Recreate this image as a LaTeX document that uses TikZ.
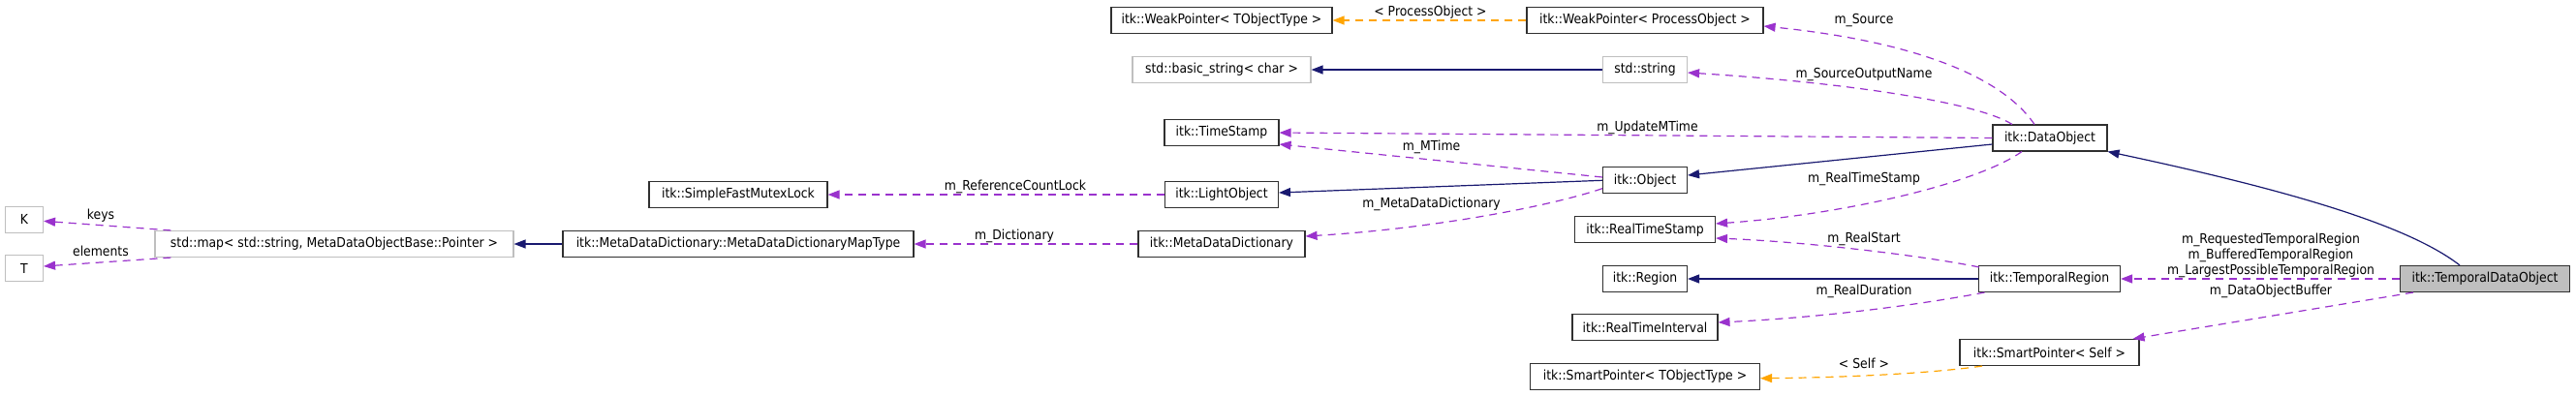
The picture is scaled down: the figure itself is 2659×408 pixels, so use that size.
\documentclass[tikz,border=0pt]{standalone}
\usepackage{fontspec}
\setmainfont{DejaVu Sans}[FakeStretch=0.9]
\usetikzlibrary{arrows.meta}
\definecolor{inhc}{HTML}{191970}
\definecolor{memc}{HTML}{9A32CD}
\definecolor{tplc}{HTML}{FFA500}
\definecolor{grayb}{HTML}{BFBFBF}
\definecolor{bordc}{HTML}{303030}
\begin{document}
\begin{tikzpicture}[x=1pt,y=-1pt,
  box/.style={draw=bordc, line width=1.1pt, minimum height=27pt, inner sep=0pt, fill=white, font=\fontsize{13.8}{16}\selectfont},
  gbox/.style={box, draw=grayb},
  lbl/.style={inner sep=0pt, font=\fontsize{13.8}{16}\selectfont},
  tip/.style={-{Triangle[length=12pt,width=9pt]}},
  inh/.style={draw=inhc, line width=1.2pt, tip},
  mem/.style={draw=memc, line width=1.2pt, dash pattern=on 8pt off 6pt, tip},
  tpl/.style={draw=tplc, line width=1.2pt, dash pattern=on 8pt off 6pt, tip}]
\fill[white] (0,0) rectangle (2659,408);
\useasboundingbox (0,0) rectangle (2659,408);

% nodes
\node[gbox, minimum width=39pt] (K) at (25,226.7) {K};
\node[gbox, minimum width=39pt] (T) at (25,277.3) {T};
\node[gbox, minimum width=370pt] (map) at (345,252) {std::map< std::string, MetaDataObjectBase::Pointer >};
\node[box, minimum width=362pt] (maptype) at (762,252) {itk::MetaDataDictionary::MetaDataDictionaryMapType};
\node[box, minimum width=184pt] (sfml) at (762,201) {itk::SimpleFastMutexLock};
\node[box, minimum width=172pt] (mdd) at (1261,252) {itk::MetaDataDictionary};
\node[box, minimum width=117pt] (light) at (1261,201) {itk::LightObject};
\node[box, minimum width=118pt] (ts) at (1261,137) {itk::TimeStamp};
\node[gbox, minimum width=184pt] (bstring) at (1261,72) {std::basic\_string< char >};
\node[box, minimum width=228pt] (wptot) at (1261,21) {itk::WeakPointer< TObjectType >};
\node[box, minimum width=244pt] (wppo) at (1698,21) {itk::WeakPointer< ProcessObject >};
\node[gbox, minimum width=87pt] (string) at (1698,72) {std::string};
\node[box, minimum width=87pt] (object) at (1698,186.3) {itk::Object};
\node[box, minimum width=145pt] (rts) at (1698,237.4) {itk::RealTimeStamp};
\node[box, minimum width=87pt] (region) at (1698,288) {itk::Region};
\node[box, minimum width=150pt] (rti) at (1698,338.3) {itk::RealTimeInterval};
\node[box, minimum width=237pt] (sptot) at (1698,389) {itk::SmartPointer< TObjectType >};
\node[box, minimum width=118pt] (dobj) at (2116,142.5) {itk::DataObject};
\node[box, minimum width=146pt] (treg) at (2115.5,288) {itk::TemporalRegion};
\node[box, minimum width=185pt] (spself) at (2115.5,364) {itk::SmartPointer< Self >};
\node[box, minimum width=175pt, fill=grayb] (tdo) at (2565,288) {itk::TemporalDataObject};

% inheritance
\draw[inh] (maptype.west) -- (map.east);
\draw[inh] (object.west) -- ([yshift=2pt]light.east);
\draw[inh] (string.west) -- (bstring.east);
\draw[inh] ([yshift=-6.5pt]dobj.west) -- ([yshift=5.3pt]object.east);
\draw[inh] (treg.west) -- (region.east);
\draw[inh] ([xshift=-26pt]tdo.north) .. controls (2490,236) and (2380,200) .. (dobj.south east);

% members
\draw[mem] ([xshift=17pt]map.north west) -- ([yshift=-1.6pt]K.east);
\draw[mem] ([xshift=17pt]map.south west) -- ([yshift=2.3pt]T.east);
\draw[mem] (mdd.west) -- (maptype.east);
\draw[mem] (light.west) -- (sfml.east);
\draw[mem] ([yshift=3.3pt]object.west) -- ([yshift=-12pt]ts.east);
\draw[mem] (dobj.west) -- (ts.east);
\draw[mem] ([yshift=-8.4pt]object.west) .. controls (1600,213) and (1480,236) .. ([yshift=8pt]mdd.east);
\draw[mem] ([xshift=-16pt]dobj.north) .. controls (2060,70) and (1950,40) .. ([yshift=-6pt]wppo.east);
\draw[mem] ([xshift=-39pt]dobj.north) .. controls (2040,105) and (1900,85) .. ([yshift=-3pt]string.east);
\draw[mem] ([xshift=-29pt]dobj.south) .. controls (2040,190) and (1900,222) .. ([yshift=6.4pt]rts.east);
\draw[mem] ([xshift=1pt,yshift=-2pt]treg.north west) .. controls (1990,265) and (1870,250) .. ([yshift=-8.6pt]rts.east);
\draw[mem] ([xshift=6.5pt]treg.south west) .. controls (1980,315) and (1880,328) .. ([yshift=5.3pt]rti.east);
\draw[mem] (tdo.west) -- (treg.east);
\draw[mem] ([xshift=-74pt]tdo.south) -- ([xshift=-7pt]spself.north east);

% template instances
\draw[tpl] (wppo.west) -- (wptot.east);
\draw[tpl] ([xshift=-69.5pt]spself.south) .. controls (1990,386) and (1900,390) .. ([yshift=-1.7pt]sptot.east);

% labels
\node[lbl] (lkeys) at (104,222.7) {keys};
\node[lbl] (lelem) at (104,259.7) {elements};
\node[lbl] (ldict) at (1047,244) {m\_Dictionary};
\node[lbl] (lrcl) at (1048,193) {m\_ReferenceCountLock};
\node[lbl] (lmt) at (1477.5,151.7) {m\_MTime};
\node[lbl] (lmdd) at (1477.5,210.7) {m\_MetaDataDictionary};
\node[lbl] (lumt) at (1700.5,132) {m\_UpdateMTime};
\node[lbl] (lpo) at (1476.5,12.7) {< ProcessObject >};
\node[lbl] (lsrc) at (1924,20.7) {m\_Source};
\node[lbl] (lson) at (1924,76.7) {m\_SourceOutputName};
\node[lbl] (lrts) at (1924,185) {m\_RealTimeStamp};
\node[lbl] (lrs) at (1924,246.7) {m\_RealStart};
\node[lbl] (lrd) at (1924,300.7) {m\_RealDuration};
\node[lbl] (lself) at (1924,375.7) {< Self >};
\node[lbl] (lreq) at (2344,247.7) {m\_RequestedTemporalRegion};
\node[lbl] (lbuf) at (2344,263.7) {m\_BufferedTemporalRegion};
\node[lbl] (llp) at (2344,279.7) {m\_LargestPossibleTemporalRegion};
\node[lbl] (ldob) at (2344,300.7) {m\_DataObjectBuffer};
\end{tikzpicture}
\end{document}
